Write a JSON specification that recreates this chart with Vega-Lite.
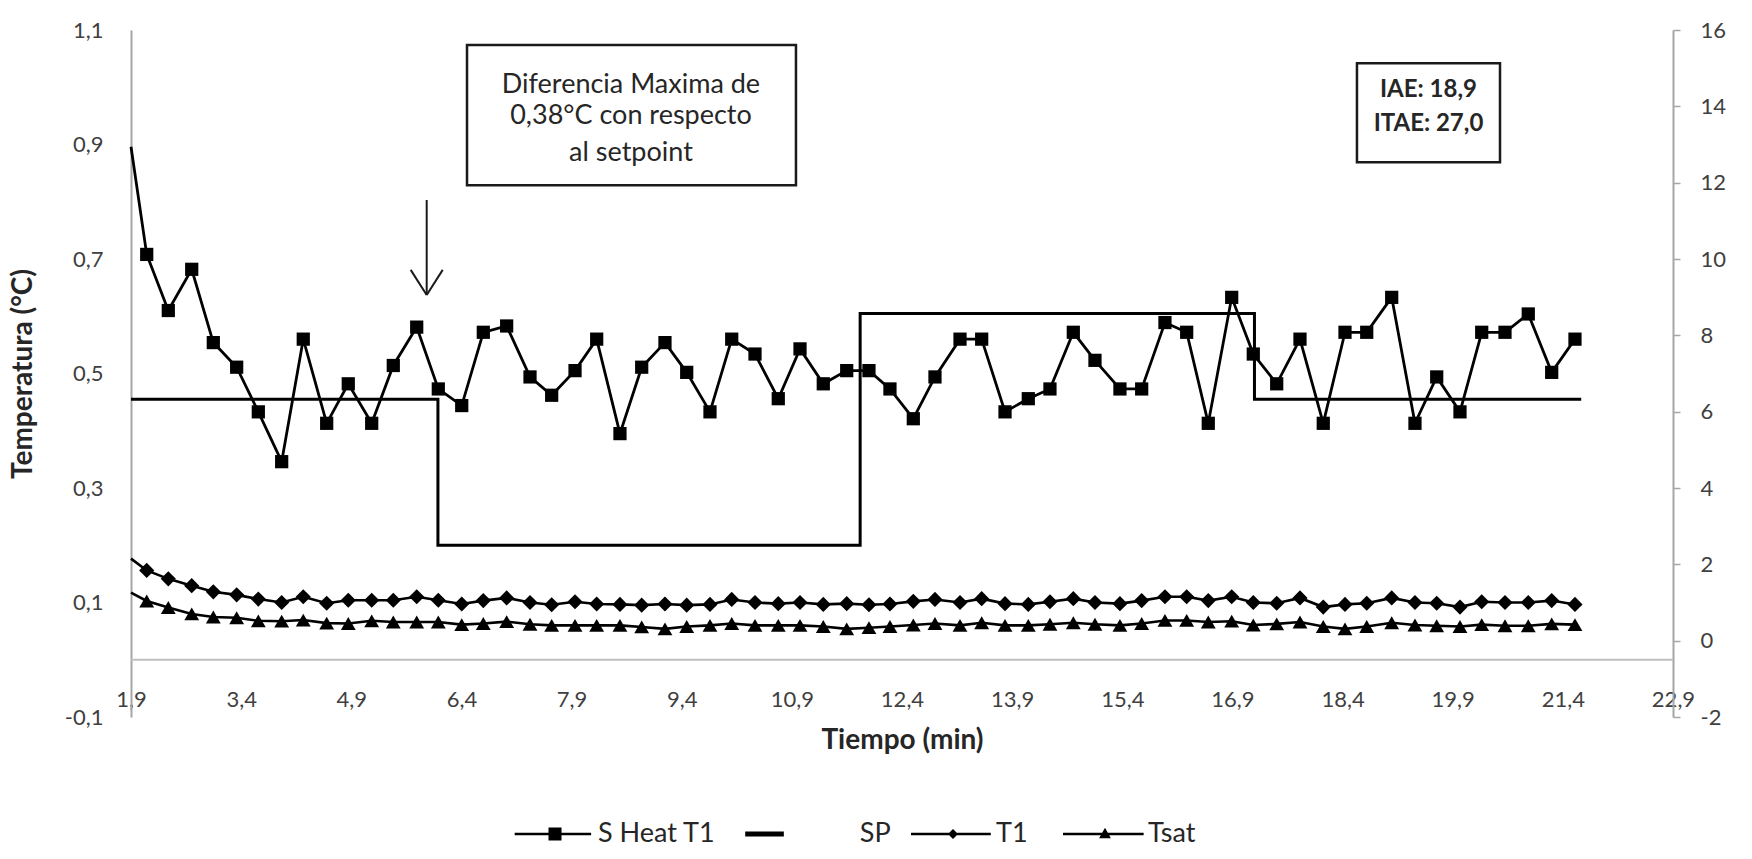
{
  "$schema": "https://vega.github.io/schema/vega-lite/v6.json",
  "width": 1542,
  "height": 687,
  "autosize": {"type": "none"},
  "padding": {"left": 131, "top": 30, "right": 79, "bottom": 142},
  "background": "white",
  "config": {
    "font": "Lato",
    "locale": {"number": {"decimal": ",", "thousands": ".", "grouping": [3], "currency": ["", " €"], "minus": "-"}},
    "view": {"stroke": null},
    "axis": {"grid": false, "labelFont": "Lato", "labelFontSize": 22, "labelColor": "#404040", "titleFont": "Lato", "titleFontSize": 28, "titleFontWeight": "bold", "titleColor": "#262626", "domainColor": "#a6a6a6", "domainWidth": 2, "tickColor": "#a6a6a6", "tickWidth": 1.5}
  },
  "datasets": {
    "series": [
      {"s":"SP","t":1.9,"v":0.455},{"s":"SP","t":6.08,"v":0.455},{"s":"SP","t":6.08,"v":0.2},{"s":"SP","t":11.83,"v":0.2},{"s":"SP","t":11.83,"v":0.605},{"s":"SP","t":17.2,"v":0.605},{"s":"SP","t":17.2,"v":0.455},{"s":"SP","t":21.65,"v":0.455},
      {"s":"S Heat T1","t":1.9,"v":0.896},
      {"s":"S Heat T1","t":2.114,"v":0.708},{"s":"S Heat T1","t":2.408,"v":0.61},{"s":"S Heat T1","t":2.727,"v":0.682},{"s":"S Heat T1","t":3.021,"v":0.554},{"s":"S Heat T1","t":3.339,"v":0.511},{"s":"S Heat T1","t":3.634,"v":0.433},{"s":"S Heat T1","t":3.952,"v":0.346},{"s":"S Heat T1","t":4.246,"v":0.56},{"s":"S Heat T1","t":4.565,"v":0.413},{"s":"S Heat T1","t":4.859,"v":0.482},{"s":"S Heat T1","t":5.178,"v":0.413},{"s":"S Heat T1","t":5.472,"v":0.514},{"s":"S Heat T1","t":5.791,"v":0.581},{"s":"S Heat T1","t":6.085,"v":0.473},{"s":"S Heat T1","t":6.404,"v":0.444},{"s":"S Heat T1","t":6.698,"v":0.572},
      {"s":"S Heat T1","t":7.016,"v":0.583},{"s":"S Heat T1","t":7.334,"v":0.494},{"s":"S Heat T1","t":7.629,"v":0.462},{"s":"S Heat T1","t":7.947,"v":0.505},{"s":"S Heat T1","t":8.242,"v":0.56},{"s":"S Heat T1","t":8.559,"v":0.395},{"s":"S Heat T1","t":8.855,"v":0.511},{"s":"S Heat T1","t":9.172,"v":0.554},{"s":"S Heat T1","t":9.468,"v":0.502},{"s":"S Heat T1","t":9.785,"v":0.433},{"s":"S Heat T1","t":10.081,"v":0.56},{"s":"S Heat T1","t":10.398,"v":0.534},{"s":"S Heat T1","t":10.715,"v":0.456},{"s":"S Heat T1","t":11.011,"v":0.543},{"s":"S Heat T1","t":11.328,"v":0.482},{"s":"S Heat T1","t":11.647,"v":0.505},
      {"s":"S Heat T1","t":11.95,"v":0.505},{"s":"S Heat T1","t":12.236,"v":0.473},{"s":"S Heat T1","t":12.554,"v":0.421},{"s":"S Heat T1","t":12.849,"v":0.494},{"s":"S Heat T1","t":13.19,"v":0.56},{"s":"S Heat T1","t":13.485,"v":0.56},{"s":"S Heat T1","t":13.803,"v":0.433},{"s":"S Heat T1","t":14.12,"v":0.456},{"s":"S Heat T1","t":14.415,"v":0.473},{"s":"S Heat T1","t":14.733,"v":0.572},{"s":"S Heat T1","t":15.028,"v":0.523},{"s":"S Heat T1","t":15.368,"v":0.473},{"s":"S Heat T1","t":15.664,"v":0.473},{"s":"S Heat T1","t":15.981,"v":0.589},{"s":"S Heat T1","t":16.277,"v":0.572},{"s":"S Heat T1","t":16.571,"v":0.413},{"s":"S Heat T1","t":16.89,"v":0.633},
      {"s":"S Heat T1","t":17.184,"v":0.534},{"s":"S Heat T1","t":17.503,"v":0.482},{"s":"S Heat T1","t":17.82,"v":0.56},{"s":"S Heat T1","t":18.137,"v":0.413},{"s":"S Heat T1","t":18.433,"v":0.572},{"s":"S Heat T1","t":18.729,"v":0.572},{"s":"S Heat T1","t":19.069,"v":0.633},{"s":"S Heat T1","t":19.386,"v":0.413},{"s":"S Heat T1","t":19.682,"v":0.494},{"s":"S Heat T1","t":19.999,"v":0.433},{"s":"S Heat T1","t":20.295,"v":0.572},{"s":"S Heat T1","t":20.612,"v":0.572},{"s":"S Heat T1","t":20.929,"v":0.604},{"s":"S Heat T1","t":21.248,"v":0.502},{"s":"S Heat T1","t":21.565,"v":0.56},
      {"s":"T1","t":1.9,"v":2.15},
      {"s":"T1","t":2.114,"v":1.84},{"s":"T1","t":2.408,"v":1.62},{"s":"T1","t":2.727,"v":1.44},{"s":"T1","t":3.021,"v":1.28},{"s":"T1","t":3.339,"v":1.2},{"s":"T1","t":3.634,"v":1.09},{"s":"T1","t":3.952,"v":1.0},{"s":"T1","t":4.246,"v":1.15},{"s":"T1","t":4.565,"v":0.98},{"s":"T1","t":4.859,"v":1.06},{"s":"T1","t":5.178,"v":1.06},{"s":"T1","t":5.472,"v":1.06},{"s":"T1","t":5.791,"v":1.15},{"s":"T1","t":6.085,"v":1.06},{"s":"T1","t":6.404,"v":0.96},{"s":"T1","t":6.698,"v":1.05},
      {"s":"T1","t":7.016,"v":1.12},{"s":"T1","t":7.334,"v":1.0},{"s":"T1","t":7.629,"v":0.94},{"s":"T1","t":7.947,"v":1.02},{"s":"T1","t":8.242,"v":0.96},{"s":"T1","t":8.559,"v":0.95},{"s":"T1","t":8.855,"v":0.93},{"s":"T1","t":9.172,"v":0.96},{"s":"T1","t":9.468,"v":0.93},{"s":"T1","t":9.785,"v":0.95},{"s":"T1","t":10.081,"v":1.08},{"s":"T1","t":10.398,"v":1.0},{"s":"T1","t":10.715,"v":0.97},{"s":"T1","t":11.011,"v":1.0},{"s":"T1","t":11.328,"v":0.95},{"s":"T1","t":11.647,"v":0.97},
      {"s":"T1","t":11.95,"v":0.94},{"s":"T1","t":12.236,"v":0.96},{"s":"T1","t":12.554,"v":1.03},{"s":"T1","t":12.849,"v":1.08},{"s":"T1","t":13.19,"v":1.0},{"s":"T1","t":13.485,"v":1.1},{"s":"T1","t":13.803,"v":0.97},{"s":"T1","t":14.12,"v":0.95},{"s":"T1","t":14.415,"v":1.02},{"s":"T1","t":14.733,"v":1.1},{"s":"T1","t":15.028,"v":1.0},{"s":"T1","t":15.368,"v":0.97},{"s":"T1","t":15.664,"v":1.05},{"s":"T1","t":15.981,"v":1.15},{"s":"T1","t":16.277,"v":1.15},{"s":"T1","t":16.571,"v":1.05},{"s":"T1","t":16.89,"v":1.15},
      {"s":"T1","t":17.184,"v":1.0},{"s":"T1","t":17.503,"v":0.98},{"s":"T1","t":17.82,"v":1.12},{"s":"T1","t":18.137,"v":0.88},{"s":"T1","t":18.433,"v":0.95},{"s":"T1","t":18.729,"v":0.98},{"s":"T1","t":19.069,"v":1.12},{"s":"T1","t":19.386,"v":1.0},{"s":"T1","t":19.682,"v":0.98},{"s":"T1","t":19.999,"v":0.88},{"s":"T1","t":20.295,"v":1.02},{"s":"T1","t":20.612,"v":1.0},{"s":"T1","t":20.929,"v":1.0},{"s":"T1","t":21.248,"v":1.05},{"s":"T1","t":21.565,"v":0.95},
      {"s":"Tsat","t":1.9,"v":1.26},
      {"s":"Tsat","t":2.114,"v":1.04},{"s":"Tsat","t":2.408,"v":0.87},{"s":"Tsat","t":2.727,"v":0.7},{"s":"Tsat","t":3.021,"v":0.62},{"s":"Tsat","t":3.339,"v":0.6},{"s":"Tsat","t":3.634,"v":0.52},{"s":"Tsat","t":3.952,"v":0.51},{"s":"Tsat","t":4.246,"v":0.54},{"s":"Tsat","t":4.565,"v":0.46},{"s":"Tsat","t":4.859,"v":0.45},{"s":"Tsat","t":5.178,"v":0.52},{"s":"Tsat","t":5.472,"v":0.49},{"s":"Tsat","t":5.791,"v":0.49},{"s":"Tsat","t":6.085,"v":0.49},{"s":"Tsat","t":6.404,"v":0.42},{"s":"Tsat","t":6.698,"v":0.45},
      {"s":"Tsat","t":7.016,"v":0.5},{"s":"Tsat","t":7.334,"v":0.43},{"s":"Tsat","t":7.629,"v":0.4},{"s":"Tsat","t":7.947,"v":0.4},{"s":"Tsat","t":8.242,"v":0.4},{"s":"Tsat","t":8.559,"v":0.4},{"s":"Tsat","t":8.855,"v":0.36},{"s":"Tsat","t":9.172,"v":0.31},{"s":"Tsat","t":9.468,"v":0.37},{"s":"Tsat","t":9.785,"v":0.4},{"s":"Tsat","t":10.081,"v":0.45},{"s":"Tsat","t":10.398,"v":0.4},{"s":"Tsat","t":10.715,"v":0.4},{"s":"Tsat","t":11.011,"v":0.4},{"s":"Tsat","t":11.328,"v":0.37},{"s":"Tsat","t":11.647,"v":0.31},
      {"s":"Tsat","t":11.95,"v":0.34},{"s":"Tsat","t":12.236,"v":0.37},{"s":"Tsat","t":12.554,"v":0.41},{"s":"Tsat","t":12.849,"v":0.45},{"s":"Tsat","t":13.19,"v":0.4},{"s":"Tsat","t":13.485,"v":0.47},{"s":"Tsat","t":13.803,"v":0.4},{"s":"Tsat","t":14.12,"v":0.4},{"s":"Tsat","t":14.415,"v":0.43},{"s":"Tsat","t":14.733,"v":0.47},{"s":"Tsat","t":15.028,"v":0.43},{"s":"Tsat","t":15.368,"v":0.4},{"s":"Tsat","t":15.664,"v":0.45},{"s":"Tsat","t":15.981,"v":0.53},{"s":"Tsat","t":16.277,"v":0.53},{"s":"Tsat","t":16.571,"v":0.49},{"s":"Tsat","t":16.89,"v":0.51},
      {"s":"Tsat","t":17.184,"v":0.41},{"s":"Tsat","t":17.503,"v":0.44},{"s":"Tsat","t":17.82,"v":0.49},{"s":"Tsat","t":18.137,"v":0.37},{"s":"Tsat","t":18.433,"v":0.31},{"s":"Tsat","t":18.729,"v":0.37},{"s":"Tsat","t":19.069,"v":0.47},{"s":"Tsat","t":19.386,"v":0.41},{"s":"Tsat","t":19.682,"v":0.39},{"s":"Tsat","t":19.999,"v":0.37},{"s":"Tsat","t":20.295,"v":0.42},{"s":"Tsat","t":20.612,"v":0.39},{"s":"Tsat","t":20.929,"v":0.39},{"s":"Tsat","t":21.248,"v":0.44},{"s":"Tsat","t":21.565,"v":0.42}
    ],
    "boxes": [
      {"t":6.476,"t2":10.956,"v":1.074,"v2":0.829},
      {"t":18.596,"t2":20.544,"v":1.042,"v2":0.869}
    ],
    "notes": [
      {"box":1,"t":8.709,"v":1.004,"label":"Diferencia Maxima de"},
      {"box":1,"t":8.709,"v":0.95,"label":"0,38°C con respecto"},
      {"box":1,"t":8.709,"v":0.886,"label":"al setpoint"},
      {"box":2,"t":19.57,"v":0.995,"label":"IAE: 18,9"},
      {"box":2,"t":19.57,"v":0.936,"label":"ITAE: 27,0"}
    ],
    "arrow": [
      {"t":5.927,"v":0.803,"t2":5.927,"v2":0.637},
      {"t":5.709,"v":0.681,"t2":5.927,"v2":0.637},
      {"t":6.145,"v":0.681,"t2":5.927,"v2":0.637}
    ]
  },
  "layer": [
    {
      "layer": [
        {
          "data": {"values": [{}]},
          "mark": {"type": "rule", "color": "#bfbfbf", "strokeWidth": 2},
          "encoding": {"y": {"datum": 0, "type": "quantitative", "scale": {"domain": [-0.1, 1.1], "nice": false, "zero": false}}}
        },
        {
          "data": {"name": "series"},
          "transform": [{"filter": "datum.s === 'SP'"}],
          "mark": {"type": "line", "color": "black", "strokeWidth": 3},
          "encoding": {
            "x": {"field": "t", "type": "quantitative", "scale": {"domain": [1.9, 22.9], "nice": false, "zero": false},
                  "axis": {"values": [1.9,3.4,4.9,6.4,7.9,9.4,10.9,12.4,13.9,15.4,16.9,18.4,19.9,21.4,22.9], "format": ".1f", "title": "Tiempo (min)", "domain": false, "ticks": false, "offset": -30, "labelPadding": 2, "titlePadding": 16, "labelFlush": false, "labelOverlap": false}},
            "y": {"field": "v", "type": "quantitative", "scale": {"domain": [-0.1, 1.1], "nice": false, "zero": false},
                  "axis": {"values": [-0.1,0.1,0.3,0.5,0.7,0.9,1.1], "format": ".1f", "title": "Temperatura (°C)", "ticks": false, "labelPadding": 28, "titlePadding": 27, "labelFlush": false, "labelOverlap": false}},
            "order": {"value": null}
          }
        },
        {
          "data": {"name": "series"},
          "transform": [{"filter": "datum.s === 'S Heat T1'"}],
          "mark": {"type": "line", "color": "black", "strokeWidth": 2.8},
          "encoding": {
            "x": {"field": "t", "type": "quantitative", "scale": {"domain": [1.9, 22.9], "nice": false, "zero": false}},
            "y": {"field": "v", "type": "quantitative", "scale": {"domain": [-0.1, 1.1], "nice": false, "zero": false}}
          }
        },
        {
          "data": {"name": "series"},
          "transform": [{"filter": "datum.s === 'S Heat T1' && datum.t > 2"}],
          "mark": {"type": "point", "shape": "square", "filled": true, "color": "black", "opacity": 1, "size": 175},
          "encoding": {
            "x": {"field": "t", "type": "quantitative", "scale": {"domain": [1.9, 22.9], "nice": false, "zero": false}},
            "y": {"field": "v", "type": "quantitative", "scale": {"domain": [-0.1, 1.1], "nice": false, "zero": false}}
          }
        },
        {
          "data": {"name": "series"},
          "transform": [{"filter": "datum.s === 'S Heat T1' && datum.t > 2"}],
          "mark": {"type": "point", "filled": true, "color": "black", "opacity": 0},
          "encoding": {
            "x": {"field": "t", "type": "quantitative", "scale": {"domain": [1.9, 22.9], "nice": false, "zero": false}},
            "y": {"field": "v", "type": "quantitative", "scale": {"domain": [-0.1, 1.1], "nice": false, "zero": false}},
            "shape": {"field": "s", "type": "nominal",
                      "scale": {"domain": ["S Heat T1", "SP", "T1", "Tsat"],
                                "range": ["M-1,-0.155h0M1,0.155h0M-0.96,-0.032H0.86V0.032H-0.96ZM-0.155,-0.155H0.155V0.155H-0.155Z", "M-1,-0.155h0M1,0.155h0M-0.9,-0.06H0.02V0.06H-0.9Z", "M-1,-0.155h0M1,0.155h0M-1,-0.032H0.9V0.032H-1ZM-0.12,0L0,-0.12L0.12,0L0,0.12Z", "M-1,-0.155h0M1,0.155h0M-1,-0.032H0.92V0.032H-1ZM-0.14,0.1L0,-0.15L0.14,0.1Z"]},
                      "legend": {"title": null, "orient": "none", "legendX": 382, "legendY": 762, "direction": "horizontal", "columns": 4, "padding": 0,
                                 "symbolSize": 7056, "symbolStrokeWidth": 0, "symbolFillColor": "black", "symbolOpacity": 1,
                                 "labelExpr": "datum.label === 'S Heat T1' ? 'S Heat T1\u2009\u200a\u200b' : datum.label === 'SP' ? '\u200b\u2003\u2002SP' : datum.label === 'T1' ? 'T1\u2002\u200a\u200b' : datum.label",
                                 "labelFont": "Lato", "labelFontSize": 27, "labelColor": "#262626", "labelOffset": 1, "columnPadding": 20}}
          }
        },
        {
          "data": {"name": "arrow"},
          "mark": {"type": "rule", "color": "#1a1a1a", "strokeWidth": 2},
          "encoding": {
            "x": {"field": "t", "type": "quantitative", "scale": {"domain": [1.9, 22.9], "nice": false, "zero": false}},
            "x2": {"field": "t2"},
            "y": {"field": "v", "type": "quantitative", "scale": {"domain": [-0.1, 1.1], "nice": false, "zero": false}},
            "y2": {"field": "v2"}
          }
        },
        {
          "data": {"name": "boxes"},
          "mark": {"type": "rect", "fill": "white", "stroke": "#1a1a1a", "strokeWidth": 2.5},
          "encoding": {
            "x": {"field": "t", "type": "quantitative", "scale": {"domain": [1.9, 22.9], "nice": false, "zero": false}},
            "x2": {"field": "t2"},
            "y": {"field": "v", "type": "quantitative", "scale": {"domain": [-0.1, 1.1], "nice": false, "zero": false}},
            "y2": {"field": "v2"}
          }
        },
        {
          "data": {"name": "notes"},
          "transform": [{"filter": "datum.box === 1"}],
          "mark": {"type": "text", "font": "Lato", "fontSize": 27, "color": "#262626", "align": "center", "baseline": "middle"},
          "encoding": {
            "x": {"field": "t", "type": "quantitative", "scale": {"domain": [1.9, 22.9], "nice": false, "zero": false}},
            "y": {"field": "v", "type": "quantitative", "scale": {"domain": [-0.1, 1.1], "nice": false, "zero": false}},
            "text": {"field": "label"}
          }
        },
        {
          "data": {"name": "notes"},
          "transform": [{"filter": "datum.box === 2"}],
          "mark": {"type": "text", "font": "Lato", "fontSize": 24, "fontWeight": "bold", "color": "#262626", "align": "center", "baseline": "middle"},
          "encoding": {
            "x": {"field": "t", "type": "quantitative", "scale": {"domain": [1.9, 22.9], "nice": false, "zero": false}},
            "y": {"field": "v", "type": "quantitative", "scale": {"domain": [-0.1, 1.1], "nice": false, "zero": false}},
            "text": {"field": "label"}
          }
        }
      ]
    },
    {
      "layer": [
        {
          "data": {"name": "series"},
          "transform": [{"filter": "datum.s === 'T1' || datum.s === 'Tsat'"}],
          "mark": {"type": "line", "color": "black", "strokeWidth": 2.6},
          "encoding": {
            "x": {"field": "t", "type": "quantitative", "scale": {"domain": [1.9, 22.9], "nice": false, "zero": false}},
            "y": {"field": "v", "type": "quantitative", "scale": {"domain": [-2, 16], "nice": false, "zero": false},
                  "axis": {"orient": "right", "values": [-2,0,2,4,6,8,10,12,14,16], "title": null, "tickSize": 7, "labelPadding": 20, "labelFlush": false, "labelOverlap": false}},
            "detail": {"field": "s"}
          }
        },
        {
          "data": {"name": "series"},
          "transform": [{"filter": "datum.s === 'T1' && datum.t > 2"}],
          "mark": {"type": "point", "shape": "diamond", "filled": true, "color": "black", "opacity": 1, "size": 230},
          "encoding": {
            "x": {"field": "t", "type": "quantitative", "scale": {"domain": [1.9, 22.9], "nice": false, "zero": false}},
            "y": {"field": "v", "type": "quantitative", "scale": {"domain": [-2, 16], "nice": false, "zero": false}}
          }
        },
        {
          "data": {"name": "series"},
          "transform": [{"filter": "datum.s === 'Tsat' && datum.t > 2"}],
          "mark": {"type": "point", "shape": "triangle-up", "filled": true, "color": "black", "opacity": 1, "size": 220},
          "encoding": {
            "x": {"field": "t", "type": "quantitative", "scale": {"domain": [1.9, 22.9], "nice": false, "zero": false}},
            "y": {"field": "v", "type": "quantitative", "scale": {"domain": [-2, 16], "nice": false, "zero": false}}
          }
        }
      ]
    }
  ],
  "resolve": {"scale": {"y": "independent"}}
}
